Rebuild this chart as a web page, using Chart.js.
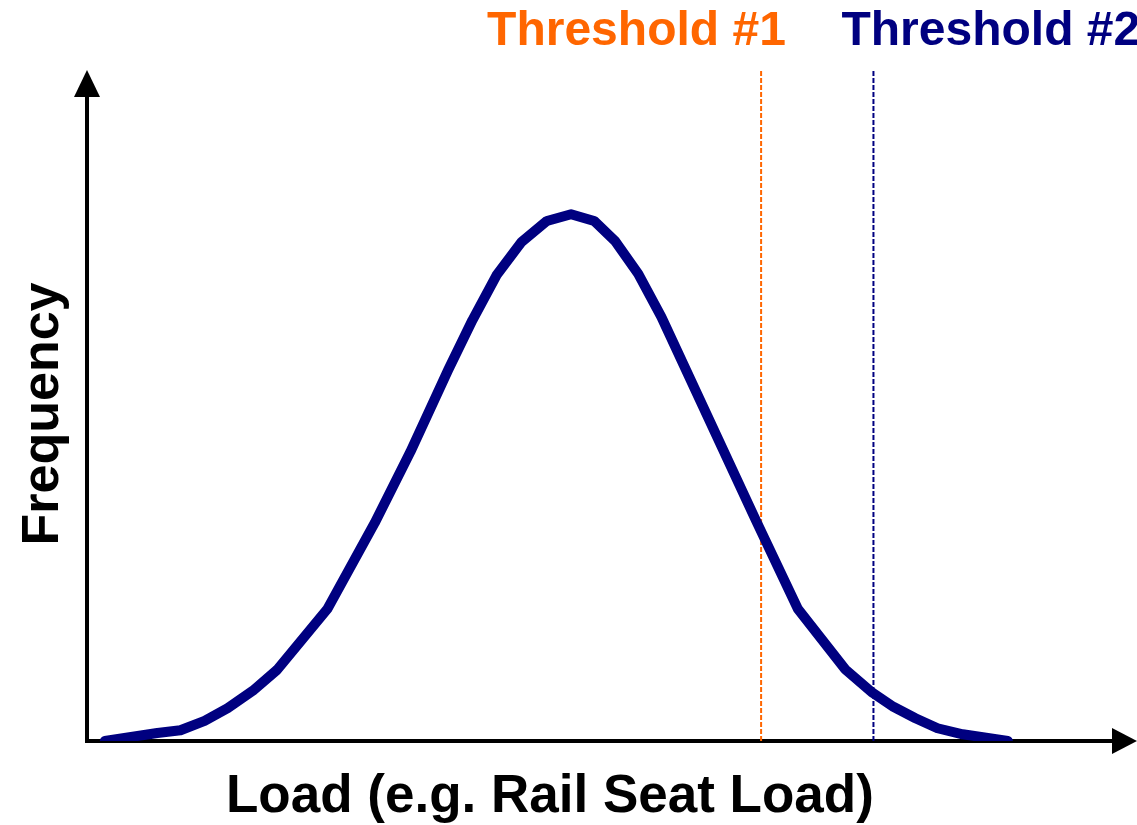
<!DOCTYPE html>
<html>
<head>
<meta charset="utf-8">
<script src="https://cdn.jsdelivr.net/npm/chart.js@4.4.1/dist/chart.umd.min.js"></script>
<style>
  html, body { margin: 0; padding: 0; background: #fff; }
  #wrap { width: 1137px; height: 825px; }
</style>
</head>
<body>
<div id="wrap"><canvas id="myChart" width="1137" height="825"></canvas></div>
<script>
// load (x) and frequency (y) of the distribution curve, 0-100 units
const loadValues = [1.7, 6.7, 8.9, 11.2, 13.4, 15.8, 18.1, 22.9, 27.4, 30.8, 34.4, 36.7, 39.0, 41.4, 43.8, 46.1,
  48.3, 50.3, 52.5, 54.7, 57.2, 63.7, 67.7, 72.2, 74.8, 76.8, 78.9, 81.0, 83.4, 87.7];
const freqValues = [0, 1.2, 1.6, 3.0, 4.9, 7.5, 10.6, 19.7, 32.5, 43.1, 55.3, 62.7, 69.4, 74.4, 77.5, 78.5,
  77.5, 74.5, 69.6, 63.2, 54.8, 32.9, 19.7, 10.7, 7.2, 5.1, 3.4, 1.9, 1.0, 0];

const thresholdNames = ['Threshold #1', 'Threshold #2'];
const thresholdLoads = [64.2, 74.9];
const thresholdColors = ['#FF6600', '#000080'];

const curve = loadValues.map((x, i) => ({ x: x, y: freqValues[i] }));

// axes with arrow heads + text labels
const axesPlugin = {
  id: 'axesPlugin',
  beforeDatasetsDraw(chart) {
    const { ctx, chartArea } = chart;
    const left = chartArea.left, bottom = chartArea.bottom;
    ctx.save();
    ctx.strokeStyle = '#000';
    ctx.fillStyle = '#000';
    ctx.lineWidth = 4;
    ctx.beginPath();
    ctx.moveTo(left, bottom);
    ctx.lineTo(left, chartArea.top + 24);
    ctx.moveTo(left - 2, bottom);
    ctx.lineTo(chartArea.right - 22, bottom);
    ctx.stroke();
    // y arrow
    ctx.beginPath();
    ctx.moveTo(left, chartArea.top);
    ctx.lineTo(left - 13, chartArea.top + 27);
    ctx.lineTo(left + 13, chartArea.top + 27);
    ctx.closePath();
    ctx.fill();
    // x arrow
    ctx.beginPath();
    ctx.moveTo(chartArea.right, bottom);
    ctx.lineTo(chartArea.right - 25, bottom - 13);
    ctx.lineTo(chartArea.right - 25, bottom + 13);
    ctx.closePath();
    ctx.fill();
    ctx.restore();
  },
  afterDraw(chart) {
    const { ctx } = chart;
    ctx.save();
    ctx.textBaseline = 'alphabetic';
    ctx.textAlign = 'left';
    ctx.fillStyle = '#000';
    ctx.font = 'bold 53px "Liberation Sans", Arial, sans-serif';
    ctx.fillText('Load (e.g. Rail Seat Load)', 226, 812);
    ctx.save();
    ctx.translate(58, 414);
    ctx.rotate(-Math.PI / 2);
    ctx.textAlign = 'center';
    ctx.font = 'bold 52px "Liberation Sans", Arial, sans-serif';
    ctx.fillText('Frequency', 0, 0);
    ctx.restore();
    ctx.font = 'bold 48px "Liberation Sans", Arial, sans-serif';
    const xs = chart.scales.x;
    const offsets = [-274, -32];
    thresholdNames.forEach((t, i) => {
      ctx.fillStyle = thresholdColors[i];
      ctx.fillText(t, xs.getPixelForValue(thresholdLoads[i]) + offsets[i], 45);
    });
    ctx.restore();
  }
};

const datasets = [{
  label: 'Distribution',
  data: curve,
  borderColor: '#000080',
  borderWidth: 10,
  borderCapStyle: 'round',
  borderJoinStyle: 'round',
  pointRadius: 0,
  tension: 0,
  order: 0
}];
thresholdLoads.forEach((v, i) => {
  datasets.push({
    label: thresholdNames[i],
    data: [{ x: v, y: 0 }, { x: v, y: 100 }],
    borderColor: thresholdColors[i],
    borderWidth: 2,
    borderDash: [5, 2],
    pointRadius: 0,
    order: 1
  });
});

const config = {
  type: 'line',
  data: { datasets },
  options: {
    responsive: false,
    animation: false,
    layout: { padding: { left: 87, right: 0, top: 70, bottom: 84 } },
    plugins: { legend: { display: false }, tooltip: { enabled: false } },
    scales: {
      x: { type: 'linear', min: 0, max: 100, display: false },
      y: { type: 'linear', min: 0, max: 100, display: false }
    }
  },
  plugins: [axesPlugin]
};

const myChart = new Chart(document.getElementById('myChart'), config);
</script>
</body>
</html>
